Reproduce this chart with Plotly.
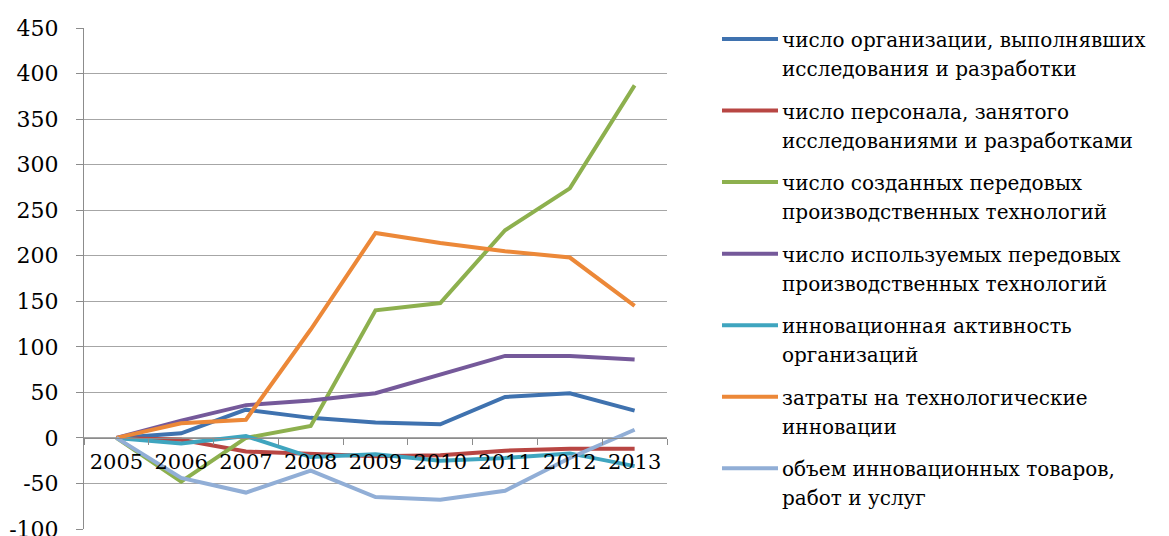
import plotly.graph_objects as go

years = ["2005", "2006", "2007", "2008", "2009", "2010", "2011", "2012", "2013"]

org_rd = [0, 5, 31, 22, 17, 15, 45, 49, 30]
staff_rd = [0, -2, -15, -18, -20, -19, -14, -12, -12]
created_tech = [0, -48, 0, 13, 140, 148, 228, 274, 387]
used_tech = [0, 19, 36, 41, 49, 69, 90, 90, 86]
innov_activity = [0, -6, 2, -21, -18, -25, -22, -17, -31]
tech_costs = [0, 16, 20, 119, 225, 214, 205, 198, 145]
innov_goods = [0, -44, -60, -36, -65, -68, -58, -22, 9]

series_values = [org_rd, staff_rd, created_tech, used_tech, innov_activity, tech_costs, innov_goods]
series_labels = [
    "число организации, выполнявших<br>исследования и разработки",
    "число персонала, занятого<br>исследованиями и разработками",
    "число созданных передовых<br>производственных технологий",
    "число используемых передовых<br>производственных технологий",
    "инновационная активность<br>организаций",
    "затраты на технологические<br>инновации",
    "объем инновационных товаров,<br>работ и услуг",
]
series_colors = ["#3F72AF", "#B84643", "#8DB04E", "#75599A", "#3FA5BF", "#EC8838", "#91AED6"]

y_ticks = [-100, -50, 0, 50, 100, 150, 200, 250, 300, 350, 400, 450]
y_tick_labels = ["-100", "-50", "0", "50", "100", "150", "200", "250", "300", "350", "400", "450"]

FONT = "DejaVu Serif"
FS_Y, FS_X, FS_LEG = 22, 21, 20
OFF = 8  # default page body margin
W, H = 1169 - OFF, 536 - OFF
PL, PR, PT, PB = 84 - OFF, 667 - OFF, 28 - OFF, 528.7 - OFF


def px_to_paper_x(px):
    return (px - OFF - PL) / (PR - PL)


def px_to_paper_y(py):
    return (PB - (py - OFF)) / (PB - PT)


fig = go.Figure()
for vals, name, col in zip(series_values, series_labels, series_colors):
    fig.add_trace(go.Scatter(
        x=years, y=vals, mode="lines", name=name,
        line=dict(color=col, width=4), showlegend=False,
    ))

# legend drawn at the right, page-pixel positions
leg_x0, leg_x1, txt_x = 722, 778, 780
first_y, entry_gap, line_gap = 40, 71.5, 29
shapes = []
annotations = []
for i, (name, col) in enumerate(zip(series_labels, series_colors)):
    yc = first_y + i * entry_gap
    shapes.append(dict(type="line", xref="paper", yref="paper",
                       x0=px_to_paper_x(leg_x0), x1=px_to_paper_x(leg_x1),
                       y0=px_to_paper_y(yc - 1), y1=px_to_paper_y(yc - 1),
                       line=dict(color=col, width=4)))
    for j, part in enumerate(name.split("<br>")):
        yy = yc + j * line_gap
        annotations.append(dict(
            text=part, xref="paper", yref="paper",
            x=px_to_paper_x(txt_x), y=px_to_paper_y(yy),
            xanchor="left", yanchor="middle", showarrow=False,
            font=dict(family=FONT, size=FS_LEG, color="#000000"),
        ))

fig.update_layout(
    width=W, height=H,
    margin=dict(l=PL, r=W - PR, t=PT, b=H - PB, pad=0, autoexpand=False),
    plot_bgcolor="white", paper_bgcolor="white",
    font=dict(family=FONT, size=FS_Y, color="#000000"),
    shapes=shapes, annotations=annotations,
    showlegend=False,
)
fig.update_xaxes(
    type="category", tickson="boundaries", ticks="outside", ticklen=6,
    tickcolor="#8C8C8C", showgrid=False, showline=True, linecolor="#8C8C8C", linewidth=1,
    anchor="free", position=100 / 550, range=[-0.5, 8.5], ticklabelstandoff=5,
    tickangle=0, automargin=False,
    tickfont=dict(family=FONT, size=FS_X, color="#000000"),
)
fig.update_yaxes(
    range=[-100, 450], tickmode="array", tickvals=y_ticks, ticktext=y_tick_labels,
    showgrid=True, gridcolor="#A6A6A6", gridwidth=1,
    showline=True, linecolor="#8C8C8C", linewidth=1, ticks="outside", ticklen=7,
    tickcolor="#8C8C8C", zeroline=False, ticklabelstandoff=13, ticklabeloverflow="allow",
    automargin=False,
    tickfont=dict(family=FONT, size=FS_Y, color="#000000"),
)

fig.write_html("out.html")
